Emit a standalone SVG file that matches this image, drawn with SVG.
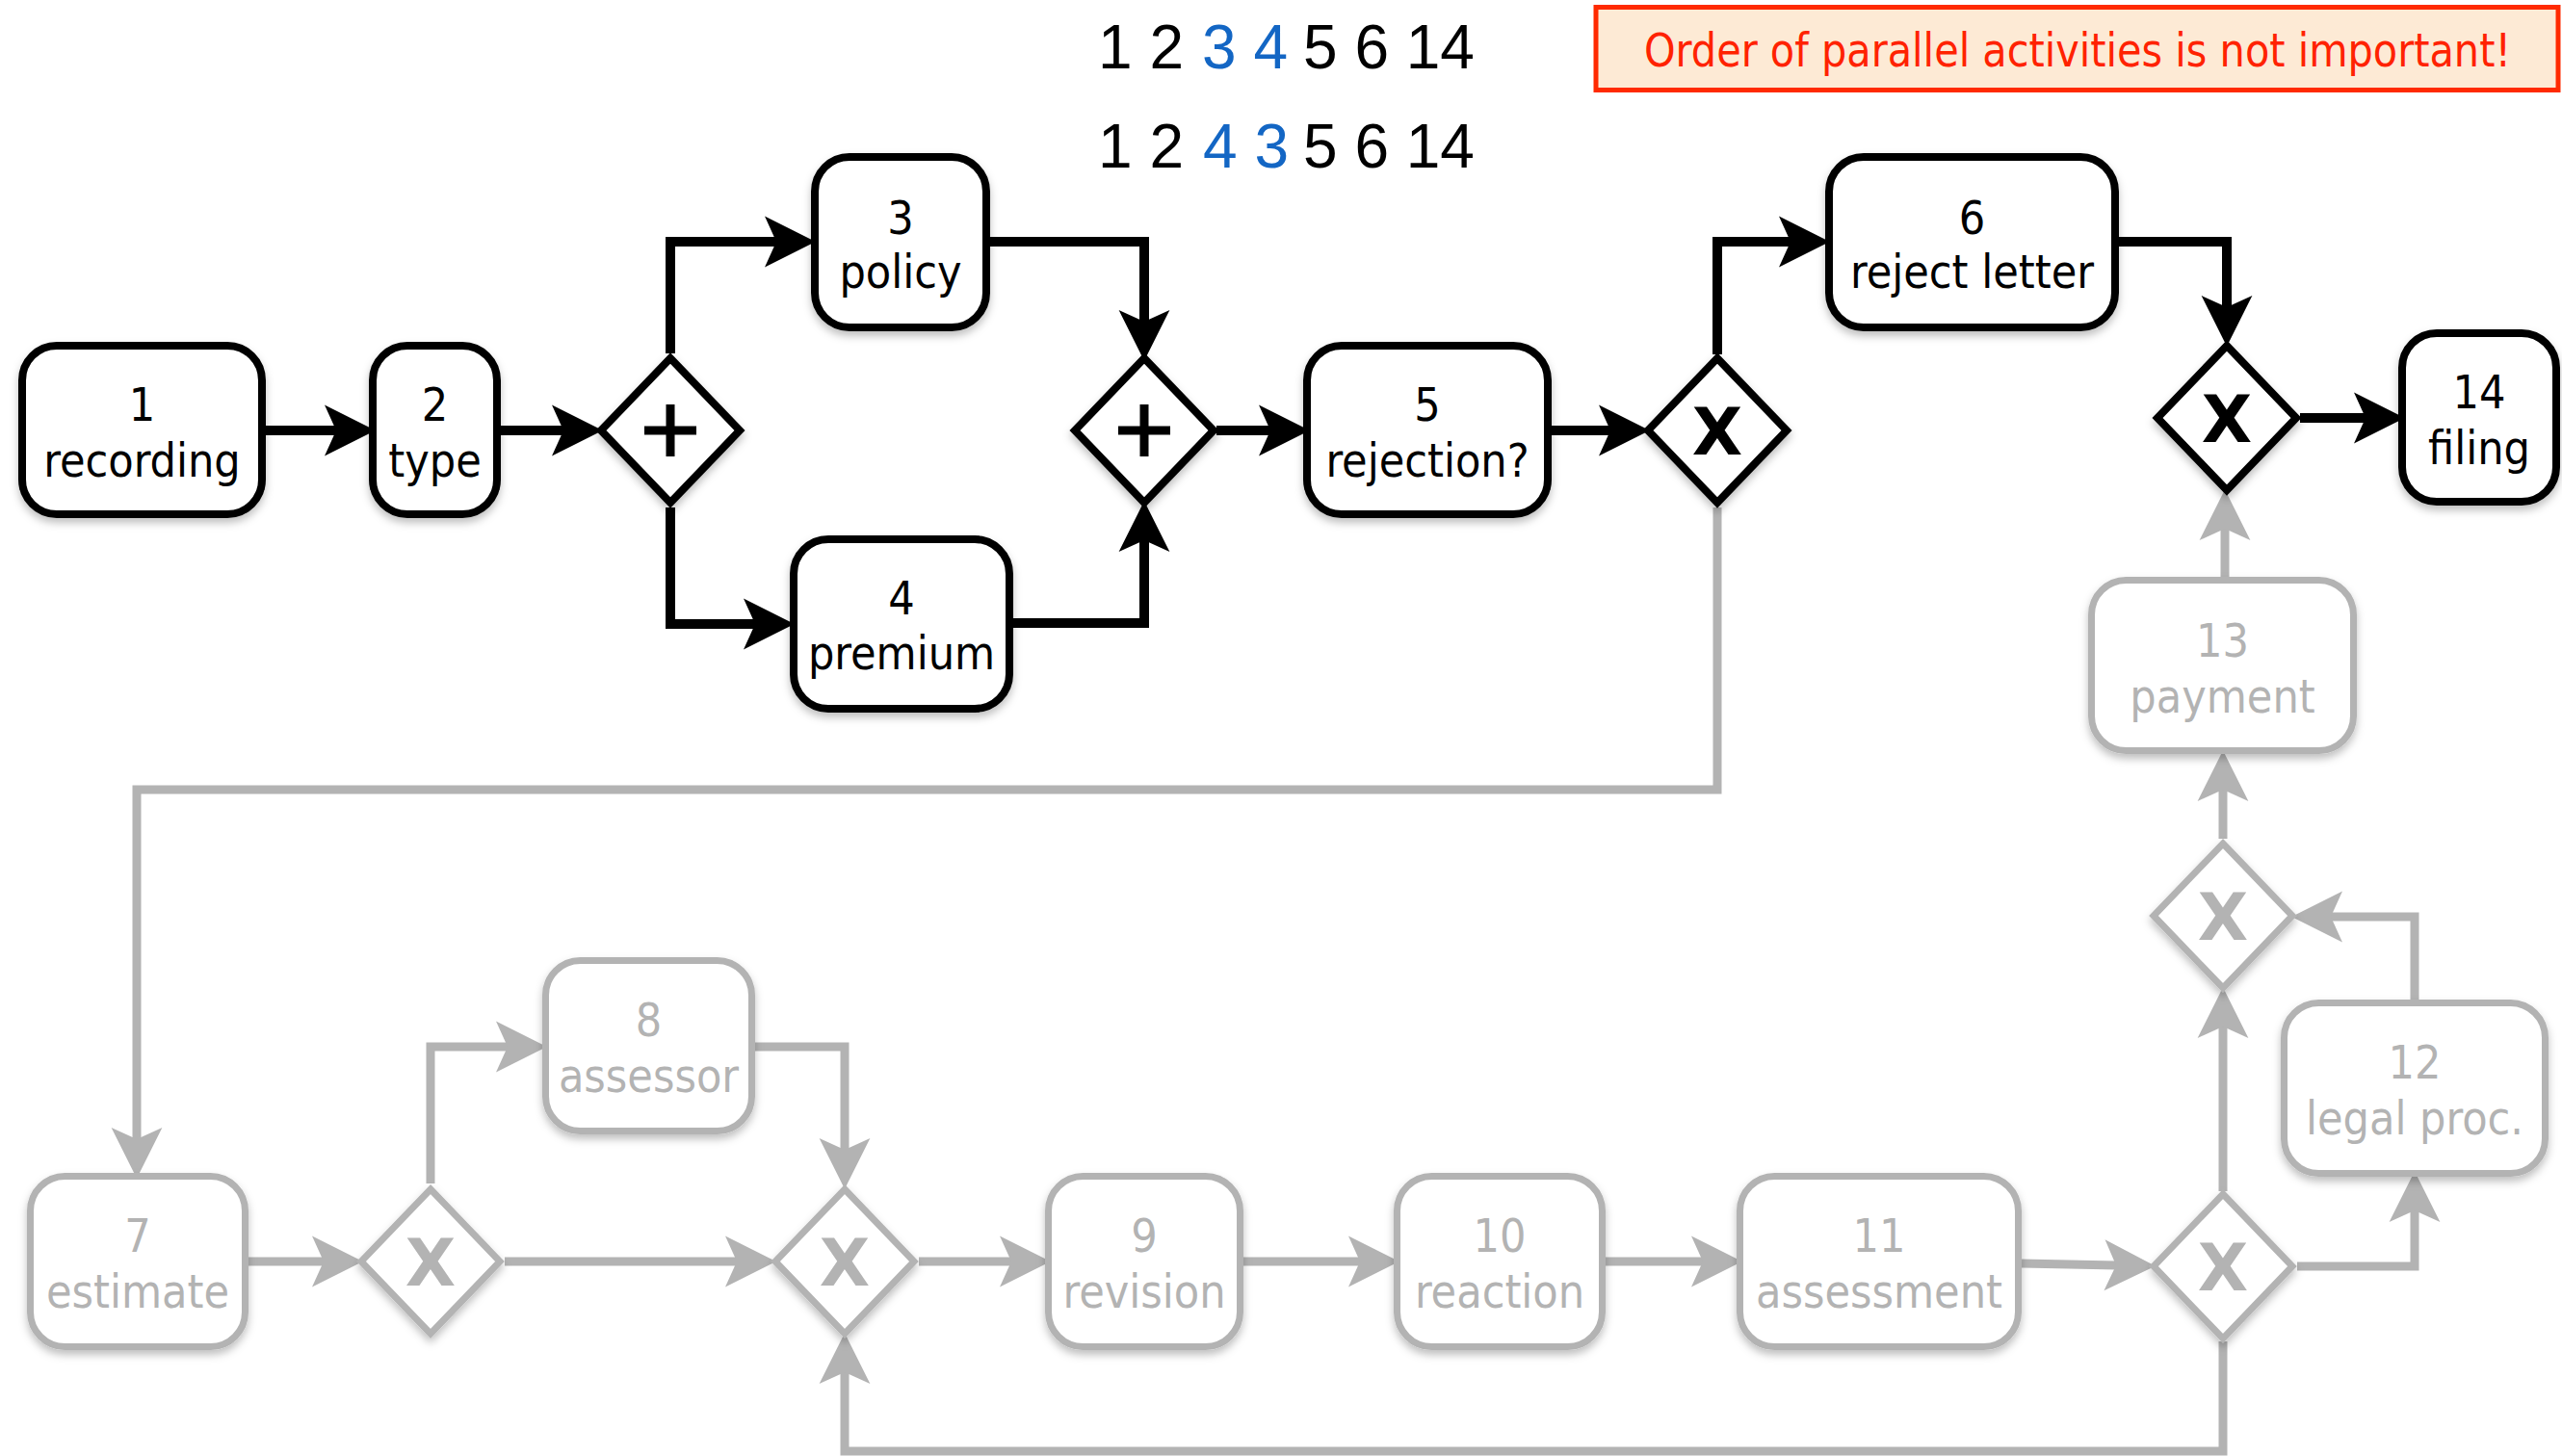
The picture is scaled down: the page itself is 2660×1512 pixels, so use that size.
<svg xmlns="http://www.w3.org/2000/svg" width="2660" height="1512" viewBox="0 0 2660 1512">
  <defs>
    <filter id="shadow" x="-20%" y="-20%" width="140%" height="150%">
      <feDropShadow dx="0" dy="5" stdDeviation="4" flood-color="#000" flood-opacity="0.25"/>
    </filter>
    <marker id="arrowBlack" markerUnits="userSpaceOnUse" markerWidth="60" markerHeight="60" viewBox="-2 -25 50 50" refX="10" refY="0" orient="auto" overflow="visible">
      <path d="M0,-22 L44,0 L0,22 L10,0 Z" fill="#000"/>
    </marker>
    <marker id="arrowGray" markerUnits="userSpaceOnUse" markerWidth="60" markerHeight="60" viewBox="-2 -25 50 50" refX="10" refY="0" orient="auto" overflow="visible">
      <path d="M0,-22 L44,0 L0,22 L10,0 Z" fill="#B3B3B3"/>
    </marker>
    <style>
      .task { fill: #fff; stroke-width: 8; filter: url(#shadow); }
      .task.on { stroke: #000; }
      .task.off { stroke: #B3B3B3; stroke-width: 7; }
      .gw { fill: #fff; stroke-width: 8; stroke-linejoin: miter; filter: url(#shadow); }
      .gw.on { stroke: #000; }
      .gw.off { stroke: #B3B3B3; stroke-width: 7; }
      .label { font-family: "DejaVu Sans Condensed", "DejaVu Sans", sans-serif; font-stretch: condensed; font-size: 48px; text-anchor: middle; }
      .label.on { fill: #000; }
      .label.off { fill: #B3B3B3; }
      .xmark { font-family: "DejaVu Sans", sans-serif; font-weight: bold; font-size: 68px; text-anchor: middle; }
      .plus { stroke: #000; stroke-width: 9; }
      .flow { fill: none; stroke-width: 10; stroke-linejoin: miter; }
      .flow.on { stroke: #000; marker-end: url(#arrowBlack); }
      .flow.off { stroke: #B3B3B3; stroke-width: 9; marker-end: url(#arrowGray); }
      .seq { font-family: "Liberation Sans", Arial, sans-serif; font-size: 64px; fill: #000; }
      .seq.par { fill: #1366C4; }
    </style>
  </defs>

  <!-- execution orders -->
  <g id="orders">
    <text class="seq" x="1140" y="71">1 2</text>
    <text class="seq par" x="1248" y="71">3 4</text>
    <text class="seq" x="1353" y="71">5 6 14</text>
    <text class="seq" x="1140" y="174">1 2</text>
    <text class="seq par" x="1249" y="174">4 3</text>
    <text class="seq" x="1353" y="174">5 6 14</text>
  </g>

  <!-- note -->
  <g id="note">
    <rect x="1657" y="7.5" width="999" height="86" fill="#FDEAD5" stroke="#FF2A00" stroke-width="5"/>
    <text x="2157" y="69" font-family="DejaVu Sans Condensed, DejaVu Sans, sans-serif" font-stretch="condensed" font-size="48" fill="#FF2200" text-anchor="middle" textLength="900" lengthAdjust="spacingAndGlyphs">Order of parallel activities is not important!</text>
  </g>

  <!-- connectors -->
  <g id="connectors">
    <path class="flow on" d="M276,447 H349"/>
    <path class="flow on" d="M520,447 H585"/>
    <path class="flow on" d="M696,367 V251 H806"/>
    <path class="flow on" d="M696,527 V648 H784"/>
    <path class="flow on" d="M1028,251 H1188 V334"/>
    <path class="flow on" d="M1052,647 H1188 V561"/>
    <path class="flow on" d="M1263,447 H1319"/>
    <path class="flow on" d="M1611,447 H1672"/>
    <path class="flow on" d="M1783,368 V251 H1859"/>
    <path class="flow on" d="M2200,251 H2312 V319"/>
    <path class="flow on" d="M2388,434 H2456"/>

    <path class="flow off" d="M1783,527 V820 H142 V1183"/>
    <path class="flow off" d="M258,1310 H336"/>
    <path class="flow off" d="M447,1229 V1087 H527"/>
    <path class="flow off" d="M524,1310 H765"/>
    <path class="flow off" d="M784,1087 H877 V1194"/>
    <path class="flow off" d="M954,1310 H1050"/>
    <path class="flow off" d="M1291,1310 H1412"/>
    <path class="flow off" d="M1667,1310 H1768"/>
    <path class="flow off" d="M2099,1312 L2197,1314"/>
    <path class="flow off" d="M2308,1393 V1507 H877 V1425"/>
    <path class="flow off" d="M2308,1237 V1066"/>
    <path class="flow off" d="M2385,1315 H2507 V1257"/>
    <path class="flow off" d="M2507,1038 V952 H2420"/>
    <path class="flow off" d="M2308,871 V820"/>
    <path class="flow off" d="M2310,599 V549"/>
  </g>

  <!-- tasks -->
  <g id="task1"><rect class="task on" x="23" y="359" width="249" height="175" rx="36"/>
    <text class="label on" x="147.5" y="437">1</text><text class="label on" x="147.5" y="495">recording</text></g>
  <g id="task2"><rect class="task on" x="387" y="359" width="129" height="175" rx="36"/>
    <text class="label on" x="451.5" y="437">2</text><text class="label on" x="451.5" y="495">type</text></g>
  <g id="task3"><rect class="task on" x="846" y="163" width="178" height="177" rx="36"/>
    <text class="label on" x="935" y="243">3</text><text class="label on" x="935" y="299">policy</text></g>
  <g id="task4"><rect class="task on" x="824" y="560" width="224" height="176" rx="36"/>
    <text class="label on" x="936" y="638">4</text><text class="label on" x="936" y="695">premium</text></g>
  <g id="task5"><rect class="task on" x="1357" y="359" width="250" height="175" rx="36"/>
    <text class="label on" x="1482" y="437">5</text><text class="label on" x="1482" y="495">rejection?</text></g>
  <g id="task6"><rect class="task on" x="1899" y="163" width="297" height="177" rx="36"/>
    <text class="label on" x="2047.5" y="243">6</text><text class="label on" x="2047.5" y="299">reject letter</text></g>
  <g id="task14"><rect class="task on" x="2494" y="346" width="160" height="175" rx="36"/>
    <text class="label on" x="2574" y="424">14</text><text class="label on" x="2574" y="482">filing</text></g>

  <g id="task7"><rect class="task off" x="31.5" y="1221.5" width="223" height="177" rx="36"/>
    <text class="label off" x="143" y="1300">7</text><text class="label off" x="143" y="1358">estimate</text></g>
  <g id="task8"><rect class="task off" x="566.5" y="997.5" width="214" height="177" rx="36"/>
    <text class="label off" x="673.5" y="1076">8</text><text class="label off" x="673.5" y="1134">assessor</text></g>
  <g id="task9"><rect class="task off" x="1088.5" y="1221.5" width="199" height="177" rx="36"/>
    <text class="label off" x="1188" y="1300">9</text><text class="label off" x="1188" y="1358">revision</text></g>
  <g id="task10"><rect class="task off" x="1450.5" y="1221.5" width="213" height="177" rx="36"/>
    <text class="label off" x="1557" y="1300">10</text><text class="label off" x="1557" y="1358">reaction</text></g>
  <g id="task11"><rect class="task off" x="1806.5" y="1221.5" width="289" height="177" rx="36"/>
    <text class="label off" x="1951" y="1300">11</text><text class="label off" x="1951" y="1358">assessment</text></g>
  <g id="task12"><rect class="task off" x="2371.5" y="1041.5" width="271" height="177" rx="36"/>
    <text class="label off" x="2507" y="1120">12</text><text class="label off" x="2507" y="1178">legal proc.</text></g>
  <g id="task13"><rect class="task off" x="2171.5" y="602.5" width="272" height="177" rx="36"/>
    <text class="label off" x="2307.5" y="682">13</text><text class="label off" x="2307.5" y="740">payment</text></g>

  <!-- gateways -->
  <g id="gw-split-and">
    <path class="gw on" d="M696,372 L768,447 L696,522 L624,447 Z"/>
    <path class="plus" d="M669,447 H723 M696,420 V474"/>
  </g>
  <g id="gw-join-and">
    <path class="gw on" d="M1188,372 L1260,447 L1188,522 L1116,447 Z"/>
    <path class="plus" d="M1161,447 H1215 M1188,420 V474"/>
  </g>
  <g id="gw-rejection">
    <path class="gw on" d="M1783,372 L1855,447 L1783,522 L1711,447 Z"/>
    <text class="xmark" x="1783" y="472" fill="#000">X</text>
  </g>
  <g id="gw-merge-end">
    <path class="gw on" d="M2312,359 L2384,434 L2312,509 L2240,434 Z"/>
    <text class="xmark" x="2312" y="459" fill="#000">X</text>
  </g>
  <g id="gw-assessor-split">
    <path class="gw off" d="M447,1235 L519,1310 L447,1385 L375,1310 Z"/>
    <text class="xmark" x="447" y="1335" fill="#B3B3B3">X</text>
  </g>
  <g id="gw-assessor-join">
    <path class="gw off" d="M877,1235 L949,1310 L877,1385 L805,1310 Z"/>
    <text class="xmark" x="877" y="1335" fill="#B3B3B3">X</text>
  </g>
  <g id="gw-assessment">
    <path class="gw off" d="M2308,1240 L2380,1315 L2308,1390 L2236,1315 Z"/>
    <text class="xmark" x="2308" y="1340" fill="#B3B3B3">X</text>
  </g>
  <g id="gw-legal-join">
    <path class="gw off" d="M2308,876 L2380,951 L2308,1026 L2236,951 Z"/>
    <text class="xmark" x="2308" y="976" fill="#B3B3B3">X</text>
  </g>
</svg>
